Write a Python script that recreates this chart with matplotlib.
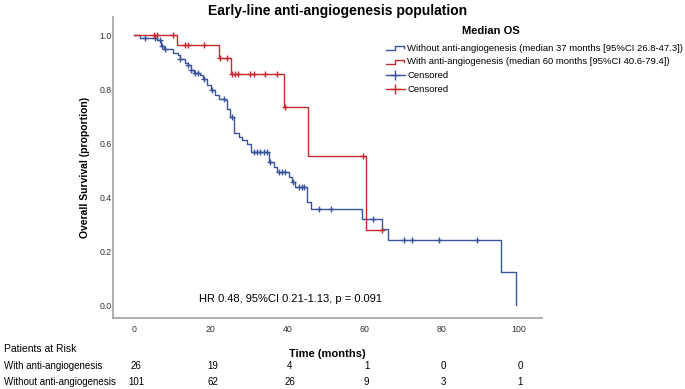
import numpy as np
import matplotlib
matplotlib.use("Agg")
import matplotlib.pyplot as plt
from matplotlib import font_manager
from matplotlib.legend_handler import HandlerBase
from matplotlib.lines import Line2D

# --- data ---
blue_t = [0, 1.6, 5.9, 7.0, 7.9, 10.2, 11.3, 12.0, 13.3, 13.9, 14.8, 15.6, 17.2, 17.9,
          19.1, 19.9, 21.1, 22.2, 24.0, 24.3, 25.0, 26.1, 27.2, 28.0, 29.3, 30.4, 35.0,
          36.3, 37.2, 40.2, 41.1, 41.9, 45.1, 46.0, 59.3, 64.5, 66.2, 95.5, 99.4]
blue_s = [1.0, 0.99, 0.98, 0.96, 0.947, 0.935, 0.926, 0.91, 0.897, 0.889, 0.87, 0.858, 0.852,
          0.836, 0.815, 0.796, 0.778, 0.765, 0.759, 0.725, 0.698, 0.636, 0.623, 0.611, 0.596,
          0.568, 0.531, 0.512, 0.494, 0.475, 0.457, 0.438, 0.383, 0.354, 0.318, 0.280, 0.241,
          0.123, 0.0]
blue_cens = [2.9, 5.5, 6.8, 7.2, 8.0, 12.0, 13.9, 14.8, 15.9, 16.7, 18.2, 20.2, 23.3, 25.4,
             31.1, 32.0, 32.8, 33.7, 34.6, 35.4, 37.6, 38.5, 39.3, 41.3, 42.8, 43.7, 44.3,
             48.2, 51.2, 62.3, 70.3, 72.3, 79.3, 89.4]

red_t = [0, 11.1, 22.1, 25.2, 39.1, 45.4, 60.3]
red_s = [1.0, 0.962, 0.916, 0.856, 0.732, 0.552, 0.278]
red_end = 64.5
red_cens = [5.2, 6.0, 10.1, 13.3, 14.1, 18.2, 22.3, 24.1, 25.4, 26.2, 27.0, 30.2, 31.1,
            34.1, 37.3, 39.3, 59.5, 64.5]

risk_times = [0, 20, 40, 60, 80, 100]
risk_with = [26, 19, 4, 1, 0, 0]
risk_without = [101, 62, 26, 9, 3, 1]

labels = ["Without anti-angiogenesis (median 37 months [95%CI 26.8-47.3])",
          "With anti-angiogenesis (median 60 months [95%CI 40.6-79.4])",
          "Censored", "Censored"]

BLUE = "#3a539c"
RED = "#c62a2e"


def pick_font(*names):
    available = {f.name for f in font_manager.fontManager.ttflist}
    for n in names:
        if n in available:
            return n
    return "DejaVu Sans"


ARIAL = pick_font("Liberation Sans", "Arimo")
NARROW = pick_font("Liberation Sans Narrow", "Liberation Sans")
plt.rcParams["font.family"] = [ARIAL, "DejaVu Sans"]


def surv_at(times, surv, c):
    idx = np.searchsorted(times, c, side="right") - 1
    return np.asarray(surv)[idx]


class StepHandler(HandlerBase):
    # little "_|‾|" glyph like the SPSS legend
    def create_artists(self, legend, orig_handle, xdescent, ydescent,
                       width, height, fontsize, trans):
        x = np.array([0.0, 0.5, 0.5, 0.95, 0.95]) * width - xdescent
        y = np.array([0.1, 0.1, 0.65, 0.65, 0.4]) * height - ydescent
        ln = Line2D(x, y, color=orig_handle.get_color(),
                    lw=orig_handle.get_linewidth(), transform=trans)
        return [ln]


fig = plt.figure(figsize=(6.85, 3.89), dpi=100)
ax = fig.add_axes([113 / 685, 1 - 318 / 389, 429 / 685, 301 / 389])

bt = np.array(blue_t + [blue_t[-1]])
bs = np.array(blue_s + [blue_s[-1]])
ax.step(bt, bs, where="post", color=BLUE, lw=1.0)
rt = np.array(red_t + [red_end])
rs = np.array(red_s + [red_s[-1]])
ax.step(rt, rs, where="post", color=RED, lw=1.0)

ax.plot(blue_cens, surv_at(blue_t, blue_s, blue_cens), ls="none", marker="+",
        ms=5, mew=1.0, color=BLUE)
ax.plot(red_cens, surv_at(red_t, red_s, red_cens), ls="none", marker="+",
        ms=5, mew=1.0, color=RED)

ax.set_xlim(-5.5, 106.2)
ax.set_ylim(-0.048, 1.067)
ax.set_xticks(risk_times)
ax.set_yticks([0, 0.2, 0.4, 0.6, 0.8, 1.0])
ax.set_yticklabels(["0.0", "0.2", "0.4", "0.6", "0.8", "1.0"])
ax.tick_params(length=0, labelsize=6.3, labelcolor="#333333")
ax.tick_params(axis="x", pad=5)
ax.tick_params(axis="y", pad=1)
for s in ["top", "right"]:
    ax.spines[s].set_visible(False)
for s in ["left", "bottom"]:
    ax.spines[s].set_color("#a8a8a8")
    ax.spines[s].set_linewidth(1.3)

ax.set_ylabel("Overall Survival (proportion)", fontsize=7.5, fontweight="bold", labelpad=7)
ax.set_xlabel("Time (months)", fontsize=8, fontweight="bold", labelpad=11)

fig.text(338 / 685, 1 - 11 / 389, "Early-line anti-angiogenesis population",
         ha="center", va="center", fontsize=10, fontweight="bold")

ax.text(0.413, 0.063, "HR 0.48, 95%CI 0.21-1.13, p = 0.091", transform=ax.transAxes,
        ha="center", va="center", fontsize=8, family=NARROW)

# legend
handles = [Line2D([], [], color=BLUE, lw=1.0), Line2D([], [], color=RED, lw=1.0),
           Line2D([], [], color=BLUE, lw=1.0, marker="+", ms=7),
           Line2D([], [], color=RED, lw=1.0, marker="+", ms=7)]
fig.text(491 / 685, 1 - 31 / 389, "Median OS", ha="center", va="center",
         fontsize=8, fontweight="bold", family=NARROW)
fig.legend(handles, labels, loc="upper left", bbox_to_anchor=(382 / 685, 1 - 40 / 389),
           frameon=False, prop={"family": NARROW, "size": 6.8},
           handlelength=2.0, handletextpad=0.25, labelspacing=0.5, borderaxespad=0,
           handler_map={handles[0]: StepHandler(), handles[1]: StepHandler()})

# risk table
fig.text(4 / 685, 1 - 349 / 389, "Patients at Risk", ha="left", va="center",
         fontsize=7.5, family=NARROW)
rows = [("With anti-angiogenesis", risk_with, 366), ("Without anti-angiogenesis", risk_without, 382)]
for name, vals, ypx in rows:
    yf = 1 - ypx / 389
    fig.text(4 / 685, yf, name, ha="left", va="center", fontsize=7, family=NARROW)
    for t, v in zip(risk_times, vals):
        xf = fig.transFigure.inverted().transform(ax.transData.transform((t, 0)))[0]
        fig.text(xf + 2 / 685, yf, str(v), ha="center", va="center", fontsize=7, family=NARROW)

fig.savefig("out.png", dpi=100)
